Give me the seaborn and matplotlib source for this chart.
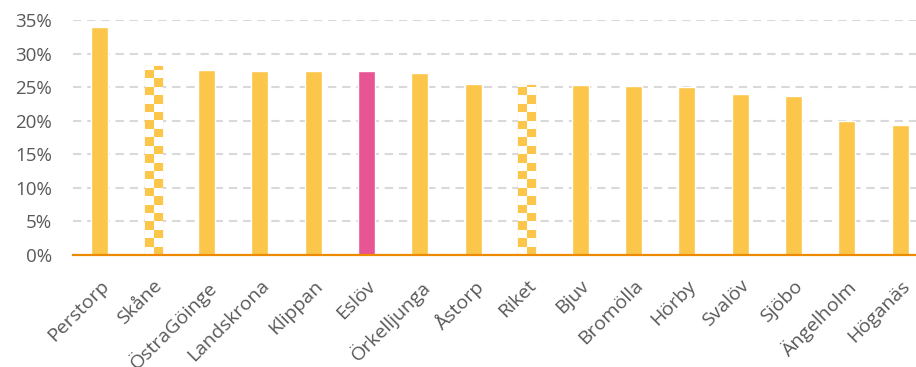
import matplotlib
matplotlib.use("Agg")
import matplotlib.pyplot as plt
import numpy as np
import pandas as pd
import seaborn as sns

# data
kommuner = ["Perstorp", "Skåne", "ÖstraGöinge", "Landskrona", "Klippan", "Eslöv",
            "Örkelljunga", "Åstorp", "Riket", "Bjuv", "Bromölla", "Hörby",
            "Svalöv", "Sjöbo", "Ängelholm", "Höganäs"]
andel = [0.340, 0.281, 0.275, 0.274, 0.274, 0.274, 0.271, 0.254, 0.253, 0.253,
         0.251, 0.250, 0.239, 0.237, 0.199, 0.193]
markerad = "Eslöv"
jamforelse = ["Skåne", "Riket"]
y_ticks = [0, 0.05, 0.10, 0.15, 0.20, 0.25, 0.30, 0.35]

YELLOW = "#FBC64A"
PINK = "#E75594"
ORANGE = "#EE8A00"
GREY_TXT = "#595959"

df = pd.DataFrame({"kommun": kommuner, "andel": andel})
palette = {k: (PINK if k == markerad else YELLOW) for k in kommuner}

sns.set_theme(style="white")
plt.rcParams["font.family"] = ["Open Sans", "DejaVu Sans"]

fig = plt.figure(figsize=(9.16, 3.67), dpi=100)
ax = fig.add_axes([0.0797, 0.3065, 0.9323, 0.639])

sns.barplot(data=df, x="kommun", y="andel", hue="kommun", palette=palette,
            legend=False, width=0.32, saturation=1, ax=ax, zorder=3)

# checkered fill for the comparison bars (Skåne, Riket)
sq = 0.0125
for bar, k in zip(ax.patches, kommuner):
    if k not in jamforelse:
        continue
    x0, w, h = bar.get_x(), bar.get_width(), bar.get_height()
    bar.set_facecolor("white")
    bar.set_edgecolor("#F8DE9C")
    bar.set_linewidth(1.0)
    rows = int(np.ceil(h / sq))
    board = (np.add.outer(np.arange(rows), np.arange(2)) % 2).astype(float)
    img = ax.imshow(board[::-1], extent=(x0, x0 + w, 0, rows * sq),
                    cmap=matplotlib.colors.ListedColormap(["white", YELLOW]),
                    aspect="auto", interpolation="nearest", zorder=3.5)
    img.set_clip_path(bar)

ax.set_xlim(-0.5, len(kommuner) - 0.5)
ax.set_ylim(0, 0.35)
ax.set_yticks(y_ticks)
ax.set_yticklabels([f"{int(round(v * 100))}%" for v in y_ticks])
ax.yaxis.grid(True, color="#D9D9D9", linestyle=(0, (4, 2.8)), linewidth=1.5, zorder=0)
ax.set_axisbelow(True)

for s in ["top", "right", "left"]:
    ax.spines[s].set_visible(False)
ax.spines["bottom"].set_color(ORANGE)
ax.spines["bottom"].set_linewidth(1.6)
ax.spines["bottom"].set_zorder(5)

ax.tick_params(axis="y", length=0, pad=15, labelsize=13.5, labelcolor=GREY_TXT)
ax.tick_params(axis="x", length=0, pad=16, labelsize=14, labelcolor=GREY_TXT)
plt.setp(ax.get_xticklabels(), rotation=45, ha="right", rotation_mode="anchor")
ax.set_xlabel("")
ax.set_ylabel("")

fig.savefig("out.png", dpi=100)
